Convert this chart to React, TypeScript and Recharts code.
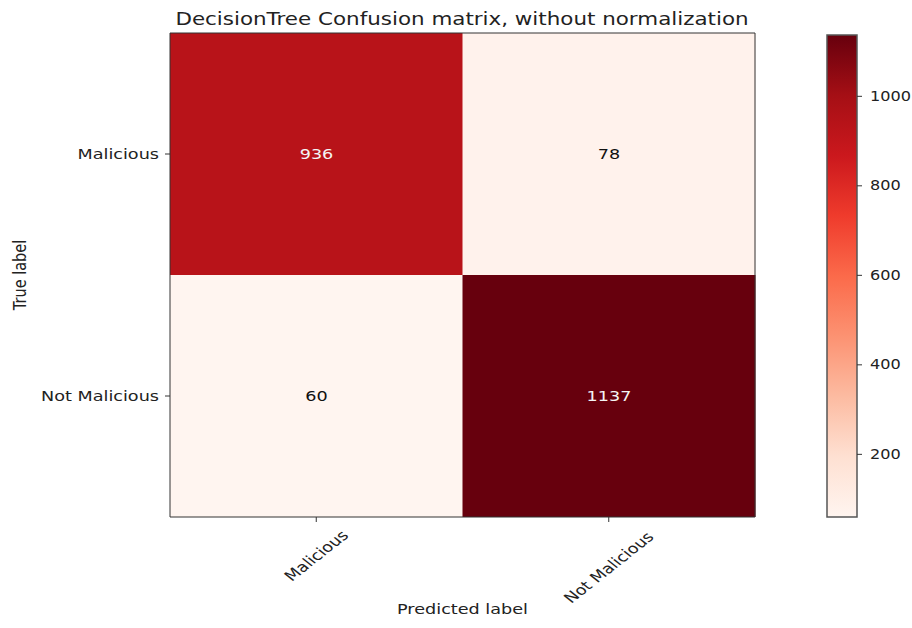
import React from 'react';
import { BarChart, Bar, XAxis, YAxis, Cell, LabelList, Label } from 'recharts';

// confusion matrix: rows = true label, columns = predicted label
const trueLabels = ['Malicious', 'Not Malicious'];
const predictedLabels = ['Malicious', 'Not Malicious'];
const countsMalicious = [936, 78];
const countsNotMalicious = [60, 1137];
const colorbarTicks = [200, 400, 600, 800, 1000];

const counts = [countsMalicious, countsNotMalicious];
const allCounts = counts.flat();
const vmin = Math.min(...allCounts);
const vmax = Math.max(...allCounts);
const thresh = vmax / 2;

const REDS = ['#fff5f0', '#fee0d2', '#fcbba1', '#fc9272', '#fb6a4a', '#ef3b2c', '#cb181d', '#a50f15', '#67000d'];

const hexToRgb = (h: string) => [1, 3, 5].map(i => parseInt(h.slice(i, i + 2), 16));

function reds(v: number) {
  const t = Math.max(0, Math.min(1, (v - vmin) / (vmax - vmin)));
  const p = t * (REDS.length - 1);
  const i = Math.min(Math.floor(p), REDS.length - 2);
  const f = p - i;
  const a = hexToRgb(REDS[i]);
  const b = hexToRgb(REDS[i + 1]);
  const c = a.map((x, k) => Math.round(x + (b[k] - x) * f));
  return `rgb(${c[0]},${c[1]},${c[2]})`;
}

// each cell is one unit tall; the stack gives the 2x2 grid
const tableData = predictedLabels.map((p, j) => ({
  predicted: p,
  rowBottom: 1,
  rowTop: 1,
  countTop: counts[0][j],
  countBottom: counts[1][j],
}));

const colorbarData = [{ name: 'cb', range: [vmin, vmax] }];

const FONT = 'DejaVu Sans, sans-serif';
const AXIS = '#333';
const TEXT = '#222';
// the reference picture is stretched sideways
const SX = 1.26;

const RotTick = (props: any) => {
  const { x, y, payload } = props;
  const text = String(payload.value);
  const fs = 14;
  const w = text.length * fs * 0.6;
  const h = (w + fs) * Math.SQRT1_2;
  return (
    <text
      transform={`translate(${x},${y + h / 2}) scale(${SX},1) rotate(-45)`}
      textAnchor="middle"
      dominantBaseline="central"
      fontSize={fs}
      fontFamily={FONT}
      fill={TEXT}
    >
      {text}
    </text>
  );
};

const LeftTick = (props: any) => {
  const { x, y, payload } = props;
  const text = payload.value === 1.5 ? trueLabels[0] : trueLabels[1];
  return (
    <text
      transform={`translate(${x},${y}) scale(${SX},1)`}
      textAnchor="end"
      dominantBaseline="central"
      fontSize={14}
      fontFamily={FONT}
      fill={TEXT}
    >
      {text}
    </text>
  );
};

const BarTick = (props: any) => {
  const { x, y, payload } = props;
  return (
    <text
      transform={`translate(${x},${y}) scale(1.15,1)`}
      textAnchor="start"
      dominantBaseline="central"
      fontSize={14}
      fontFamily={FONT}
      fill={TEXT}
    >
      {payload.value}
    </text>
  );
};

const cellLabel = (props: any) => {
  const vb = props.viewBox || props;
  const { x, y, width, height } = vb;
  const value = Number(props.value);
  return (
    <text
      transform={`translate(${x + width / 2},${y + height / 2}) scale(${SX},1)`}
      textAnchor="middle"
      dominantBaseline="central"
      fontSize={14}
      fontFamily={FONT}
      fill={value > thresh ? '#f4f4f4' : '#111'}
    >
      {value}
    </text>
  );
};

const xLabel = (props: any) => {
  const vb = props.viewBox;
  return (
    <text
      transform={`translate(${vb.x + vb.width / 2},${vb.y + vb.height - 19}) scale(${SX},1)`}
      textAnchor="middle"
      dominantBaseline="central"
      fontSize={14}
      fontFamily={FONT}
      fill={TEXT}
    >
      Predicted label
    </text>
  );
};

const yLabel = (props: any) => {
  const vb = props.viewBox;
  return (
    <text
      transform={`translate(${vb.x - 50},${vb.y + vb.height / 2}) scale(${SX},1) rotate(-90)`}
      textAnchor="middle"
      dominantBaseline="central"
      fontSize={14.5}
      fontFamily={FONT}
      fill={TEXT}
    >
      True label
    </text>
  );
};

export default function App() {
  return (
    <div style={{ position: 'absolute', left: 0, top: 0, width: 912, height: 628, background: '#fff', fontFamily: FONT, overflow: 'hidden' }}>
      <div style={{ position: 'absolute', left: 0, top: 0 }}>
        <BarChart
          width={912}
          height={628}
          data={tableData}
          margin={{ top: 32, right: 156, bottom: 0, left: 70 }}
          barCategoryGap={0}
        >
          <XAxis
            dataKey="predicted"
            height={111}
            tick={<RotTick />}
            tickSize={5}
            tickMargin={2}
            stroke={AXIS}
            interval={0}
          >
            <Label content={xLabel} />
          </XAxis>
          <XAxis xAxisId="frame" orientation="top" height={1} tick={false} tickLine={false} stroke={AXIS} />
          <YAxis
            type="number"
            domain={[0, 2]}
            ticks={[0.5, 1.5]}
            width={100}
            tickSize={5}
            tickMargin={6}
            stroke={AXIS}
            tick={<LeftTick />}
          >
            <Label content={yLabel} />
          </YAxis>
          <YAxis yAxisId="frame" orientation="right" width={1} tick={false} tickLine={false} stroke={AXIS} />
          <Bar dataKey="rowBottom" stackId="m" isAnimationActive={false}>
            {tableData.map((d, j) => (
              <Cell key={`b-${j}`} fill={reds(d.countBottom)} />
            ))}
            <LabelList dataKey="countBottom" content={cellLabel} />
          </Bar>
          <Bar dataKey="rowTop" stackId="m" isAnimationActive={false}>
            {tableData.map((d, j) => (
              <Cell key={`t-${j}`} fill={reds(d.countTop)} />
            ))}
            <LabelList dataKey="countTop" content={cellLabel} />
          </Bar>
        </BarChart>
      </div>

      <div style={{ position: 'absolute', left: 0, top: 0 }}>
        <BarChart
          width={912}
          height={628}
          data={colorbarData}
          margin={{ top: 35, right: 0, bottom: 111, left: 827 }}
          barCategoryGap={0}
        >
          <defs>
            <linearGradient id="redsGrad" x1="0" y1="1" x2="0" y2="0">
              {REDS.map((c, i) => (
                <stop key={c} offset={`${(i / (REDS.length - 1)) * 100}%`} stopColor={c} />
              ))}
            </linearGradient>
          </defs>
          <XAxis dataKey="name" hide />
          <YAxis
            type="number"
            orientation="right"
            domain={[vmin, vmax]}
            ticks={colorbarTicks}
            width={55}
            tickSize={5}
            tickMargin={8}
            axisLine={false}
            tickLine={{ stroke: AXIS }}
            tick={<BarTick />}
          />
          <Bar dataKey="range" fill="url(#redsGrad)" stroke="#555" strokeWidth={1.5} isAnimationActive={false} />
        </BarChart>
      </div>

      <div
        style={{
          position: 'absolute',
          left: 0,
          top: 8,
          width: 924,
          textAlign: 'center',
          fontSize: 17,
          lineHeight: '22px',
          color: TEXT,
          fontFamily: FONT,
          transform: `scaleX(${SX})`,
          transformOrigin: '462px 0',
        }}
      >
        DecisionTree Confusion matrix, without normalization
      </div>
    </div>
  );
}
